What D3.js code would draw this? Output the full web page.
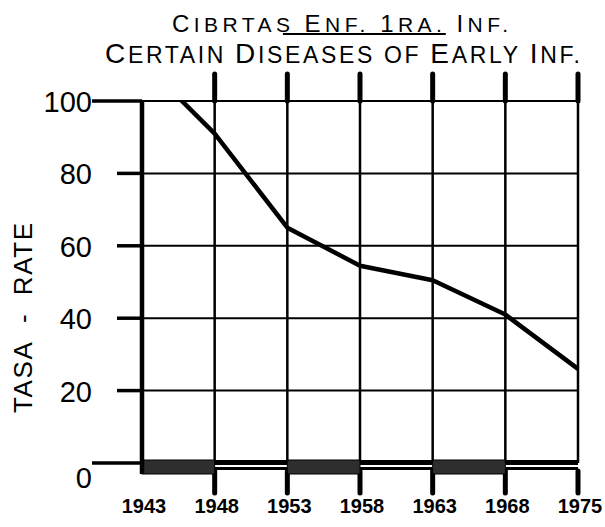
<html>
  <head>
    <meta charset="UTF-8">
    <style>
      body { margin: 0; background: white; }
      text { font-family: 'Liberation Sans', Arial, sans-serif; fill: black; }
      .xlab { font-weight: bold; }
    </style>
  </head>
  <body>
    <script src="https://d3js.org/d3.v7.min.js"></script>
    <script>
      var years = ["1943", "1948", "1953", "1958", "1963", "1968", "1975"];
      // 1943 point lies above the top of the grid, the line is clipped at 100
      var rates = [111, 91, 65, 54.5, 50.5, 41, 26];
      var yTicks = [0, 20, 40, 60, 80, 100];
      var title1 = "Cibrtas Enf. 1ra. Inf.";
      var title2 = "Certain Diseases of Early Inf.";
      var yTitle = "TASA\u00a0\u00a0-\u00a0\u00a0RATE";

      var svg = d3.select("body").append("svg").attr("width", 605).attr("height", 527);

      var x = d3.scalePoint().domain(years).range([142, 578]),
          y = d3.scaleLinear().domain([0, 100]).range([463, 101]);
      var x0 = x(years[0]), x1 = x(years[years.length - 1]);

      /* grid */
      svg.selectAll(".hgrid")
        .data(yTicks.filter(function(v) { return v > 0; }))
        .enter().append("line")
        .attr("x1", x0).attr("x2", x1)
        .attr("y1", function(d) { return y(d); })
        .attr("y2", function(d) { return y(d); })
        .attr("stroke", "black").attr("stroke-width", 2);

      svg.selectAll(".vgrid")
        .data(years.slice(1))
        .enter().append("line")
        .attr("x1", function(d) { return x(d); })
        .attr("x2", function(d) { return x(d); })
        .attr("y1", y(100)).attr("y2", y(0))
        .attr("stroke", "black").attr("stroke-width", 2.5);

      // heavy tick stubs above and below the grid
      svg.selectAll(".ttick")
        .data(years.slice(1))
        .enter().append("line")
        .attr("x1", function(d) { return x(d); })
        .attr("x2", function(d) { return x(d); })
        .attr("y1", y(100) - 27).attr("y2", y(100))
        .attr("stroke", "black").attr("stroke-width", 5).attr("stroke-linecap", "round");
      svg.selectAll(".btick")
        .data(years.slice(1))
        .enter().append("line")
        .attr("x1", function(d) { return x(d); })
        .attr("x2", function(d) { return x(d); })
        .attr("y1", y(0) + 8).attr("y2", y(0) + 30)
        .attr("stroke", "black").attr("stroke-width", 5).attr("stroke-linecap", "round");

      /* x axis bar: alternating shaded / hollow segments */
      for (var i = 0; i < years.length - 1; i++) {
        var a = x(years[i]), b = x(years[i + 1]);
        if (i % 2 == 0) {
          svg.append("rect")
            .attr("x", a).attr("y", y(0) - 3)
            .attr("width", b - a).attr("height", 14)
            .attr("fill", "#2e2e2e").attr("stroke", "black").attr("stroke-width", 1);
        } else {
          svg.append("line")
            .attr("x1", a).attr("x2", b).attr("y1", y(0) - 0.5).attr("y2", y(0) - 0.5)
            .attr("stroke", "black").attr("stroke-width", 5);
          svg.append("line")
            .attr("x1", a).attr("x2", b).attr("y1", y(0) + 5.5).attr("y2", y(0) + 5.5)
            .attr("stroke", "black").attr("stroke-width", 3);
        }
      }

      /* y axis */
      svg.append("line")
        .attr("x1", x0).attr("x2", x0)
        .attr("y1", y(100)).attr("y2", y(0) + 11)
        .attr("stroke", "black").attr("stroke-width", 4.5);

      svg.selectAll(".ytick")
        .data(yTicks)
        .enter().append("line")
        .attr("x1", function(d) { return (d == 0 || d == 100) ? x0 - 50 : x0 - 25; })
        .attr("x2", x0)
        .attr("y1", function(d) { return y(d); })
        .attr("y2", function(d) { return y(d); })
        .attr("stroke", "black").attr("stroke-width", 3.5);

      svg.selectAll(".ylab")
        .data(yTicks)
        .enter().append("text")
        .attr("x", x0 - 50)
        .attr("y", function(d) { return y(d) + (d == 0 ? 15 : 1); })
        .attr("text-anchor", "end")
        .attr("dominant-baseline", "central")
        .style("font-size", "29px")
        .text(function(d) { return d; });

      svg.append("text")
        .attr("transform", "translate(32,318) rotate(-90)")
        .attr("text-anchor", "middle")
        .attr("textLength", 190).attr("lengthAdjust", "spacing")
        .style("font-size", "26px")
        .text(yTitle);

      /* x labels */
      svg.selectAll(".xlab")
        .data(years)
        .enter().append("text")
        .attr("class", "xlab")
        .attr("x", function(d) { return x(d) + 2; })
        .attr("y", y(0) + 50)
        .attr("text-anchor", "middle")
        .style("font-size", "20px")
        .text(function(d) { return d; });

      /* data line */
      svg.append("clipPath").attr("id", "plot")
        .append("rect")
        .attr("x", x0).attr("y", y(100))
        .attr("width", x1 - x0 + 5).attr("height", y(0) - y(100));

      var line = d3.line()
        .x(function(d, i) { return x(years[i]); })
        .y(function(d) { return y(d); });

      svg.append("path")
        .datum(rates)
        .attr("clip-path", "url(#plot)")
        .attr("fill", "none")
        .attr("stroke", "black")
        .attr("stroke-width", 4.5)
        .attr("stroke-linejoin", "round")
        .attr("d", line);

      /* title, hand lettered small caps */
      function smallCaps(t, str, big, small) {
        for (var k = 0; k < str.length; k++) {
          var c = str[k];
          var isBig = (c != c.toLowerCase()) || /[0-9]/.test(c);
          t.append("tspan")
            .style("font-size", (isBig ? big : small) + "px")
            .text(c == " " ? "\u00a0" : c.toUpperCase());
        }
      }

      var t1 = svg.append("text")
        .attr("x", 172).attr("y", 32)
        .attr("textLength", 336).attr("lengthAdjust", "spacing");
      smallCaps(t1, title1, 24, 21);

      var t2 = svg.append("text")
        .attr("x", 105).attr("y", 63)
        .attr("textLength", 475).attr("lengthAdjust", "spacing");
      smallCaps(t2, title2, 28, 23);

      // underline from the "s" of the first word to the end of "1ra."
      var spans = t1.selectAll("tspan").nodes();
      var startBox = spans[title1.indexOf("s ")].getBBox();
      var endBox = spans[title1.indexOf("1ra.") + 3].getBBox();
      svg.append("line")
        .attr("x1", startBox.x + startBox.width / 2)
        .attr("x2", endBox.x + endBox.width + 4)
        .attr("y1", 34).attr("y2", 34)
        .attr("stroke", "black").attr("stroke-width", 2);
    </script>
  </body>
</html>
